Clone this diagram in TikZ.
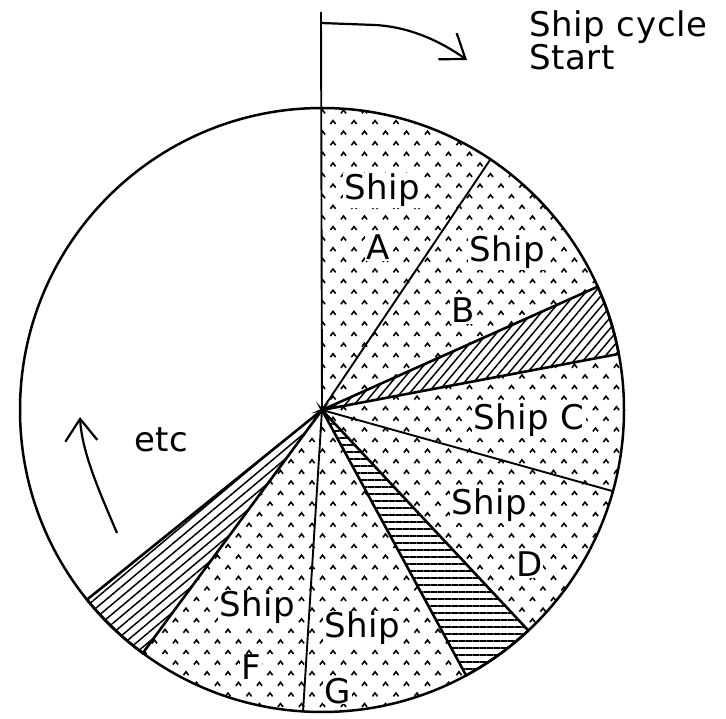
\documentclass[tikz,border=0pt]{standalone}
\usepackage{fontspec}
\setmainfont[LetterSpace=2]{DejaVu Sans}
\usetikzlibrary{calc}
\usetikzlibrary{arrows.meta,patterns.meta}

\newcommand{\piewedge}[2]{(cen) -- +(#1:302) arc[start angle=#1,end angle=#2,radius=302] -- cycle}

\tikzset{
	caret/.style={line width=1.6pt},
	rim/.style={line width=2.5pt},
	spoke/.style={line width=1.9pt},
	hatchedge/.style={line width=2.6pt},
	lab/.style={anchor=base west,inner sep=1pt,fill=white,font=\fontsize{34}{40}\selectfont},
	barb/.style={-{Straight Barb[length=22pt,width=32pt]},line width=2.2pt}
}

\begin{document}
\begin{tikzpicture}[x=1pt,y=1pt]
	\useasboundingbox (0,0) rectangle (726,718);
	\coordinate (cen) at (322,308);
	\coordinate (poletop) at (321,706);
	\coordinate (flagA) at (321,695);
	\coordinate (flagB) at (375,693);
	\coordinate (flagtip) at (467,658);
	\coordinate (etcfoot) at (117,185);
	\coordinate (etctip) at (80,301);

	\begin{scope}
		\clip \piewedge{24.1}{90} \piewedge{-46.9}{10.7} \piewedge{233.6}{298.5};
		\draw[caret] \foreach \i in {0,...,29} {\foreach \j [evaluate=\j as \off using {mod(\j,2)*10.5}] in {0,...,57} {({18+21*\i+\off},{2+10.6*\j}) ++(-2.6,-1.6) -- ++(2.6,3.4) -- ++(2.6,-3.4)}};
	\end{scope}

	\path[hatchedge,draw,pattern={Lines[angle=50,distance=7pt,line width=1.5pt]}] \piewedge{10.7}{24.1};
	\path[hatchedge,draw,pattern={Lines[angle=0,distance=7pt,line width=1.5pt]}] \piewedge{-61.5}{-46.9};
	\path[hatchedge,draw,pattern={Lines[angle=40,distance=7.5pt,line width=1.5pt]}] \piewedge{218.9}{233.6};

	\draw[rim] (cen) circle[radius=302];
	\foreach \a in {56.1,-15.6,-93.6} \draw[spoke] (cen) -- +(\a:302);
	\draw[spoke] (cen) -- (poletop);

	\node[lab] (shipA) at (343,518) {Ship};
	\node[lab] (labA) at (365,458) {A};
	\node[lab] (shipB) at (468,456) {Ship};
	\node[lab] (labB) at (450,395) {B};
	\node[lab] (shipC) at (472,288) {Ship C};
	\node[lab] (shipD) at (450,203) {Ship};
	\node[lab] (labD) at (515,141) {D};
	\node[lab] (shipF) at (218,101) {Ship};
	\node[lab] (labF) at (240,38) {F};
	\node[lab] (shipG) at (323,80) {Ship};
	\node[lab] (labG) at (323,15) {G};
	\node[lab] (etc) at (133,266) {etc};
	\node[lab] (cycle) at (528,681) {Ship cycle};
	\node[lab] (start) at (528,648) {Start};

	\draw[barb] (flagA) -- (flagB) .. controls (410,691) and (440,677) .. (flagtip);
	\draw[barb] (etcfoot) .. controls (100,225) and (82,265) .. (etctip);
\end{tikzpicture}
\end{document}
